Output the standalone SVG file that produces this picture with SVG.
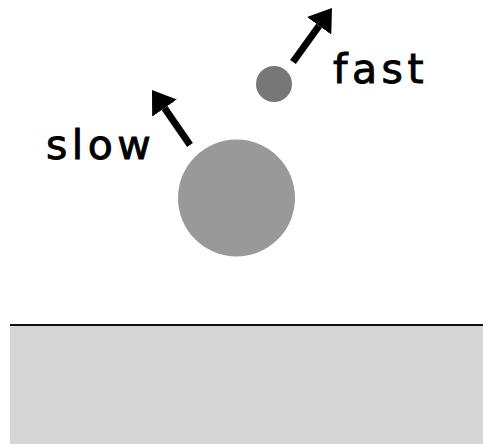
<svg xmlns="http://www.w3.org/2000/svg" width="483" height="444" viewBox="0 0 483 444">
<style>
.lbl{font-family:"DejaVu Sans","Liberation Sans",sans-serif;font-size:41px;fill:#000;stroke:#000;stroke-width:0.9px;letter-spacing:4.5px}
.arr{stroke:#000;stroke-width:7;fill:none;marker-end:url(#head)}
</style>
<defs>
<marker id="head" viewBox="0 -15 22 30" refX="0" refY="0" markerWidth="22" markerHeight="30" markerUnits="userSpaceOnUse" orient="auto">
<path d="M0,-15 L22,0 L0,15 z" fill="#000"/>
</marker>
</defs>
<rect width="483" height="444" fill="#fff"/>
<g id="ground">
<rect x="10" y="325" width="473" height="119" fill="#d6d6d6"/>
<line x1="10" y1="325" x2="483" y2="325" stroke="#111" stroke-width="2"/>
</g>
<g id="big-particle">
<circle cx="236.5" cy="198" r="58.5" fill="#999"/>
</g>
<g id="small-particle">
<circle cx="274" cy="84" r="18" fill="#777"/>
</g>
<g id="connectors">
<line class="arr" x1="190" y1="145" x2="164.5" y2="108.1"/>
<line class="arr" x1="293" y1="62" x2="319.1" y2="25.8"/>
</g>
<g id="labels">
<text class="lbl" x="46" y="159">slow</text>
<text class="lbl" x="333" y="83">fast</text>
</g>
</svg>
